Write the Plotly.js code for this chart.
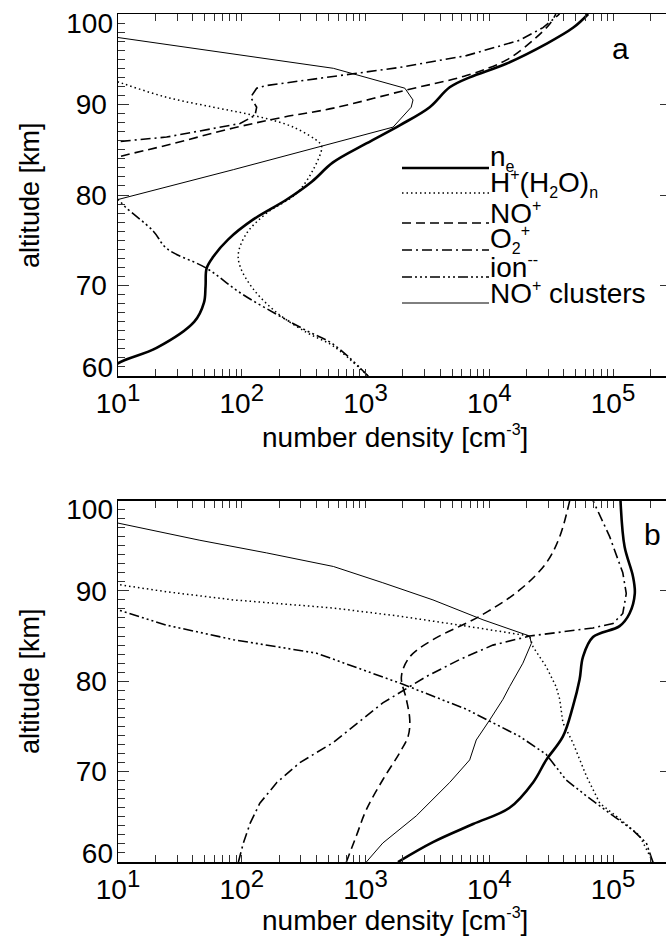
<!DOCTYPE html>
<html><head><meta charset="utf-8">
<script src="https://cdn.plot.ly/plotly-3.0.1.min.js"></script>
<style>html,body{margin:0;padding:0;background:#fff}#chart{width:666px;height:944px}</style>
</head><body><div id="chart"></div>
<script>
// ---------- Panel a data (density cm^-3, altitude km) ----------
const altA_ne = [60, 61.4, 63.1, 66.0, 68.1, 69.9, 71.9, 73.2, 75.1, 77.3, 79.5, 81.5, 83.6, 85.7, 87.7, 89.7, 91.9, 93.0, 94.5, 96.7, 98.5, 100];
const neA     = [7.5, 10, 20.5, 41.4, 49.5, 51, 52, 59, 77.8, 124, 231, 370, 546, 1016, 1890, 3300, 4790, 6950, 13700, 28900, 47800, 63000];
const altA_h  = [60, 63.3, 64.8, 67.0, 69.6, 72.1, 73.6, 75.8, 78.0, 80.2, 82.8, 85.2, 85.7, 87.5, 88.8, 89.7, 90.8, 92.5, 94];
const hA      = [1050, 550, 335, 192, 124, 97, 94, 110, 159, 278, 378, 443, 429, 261, 124, 59, 24.7, 10, 5];
const altA_no = [83.0, 84.2, 85.5, 87.4, 88.6, 89.6, 91.6, 93.2, 94.9, 97.1, 98.9, 100];
const noA     = [5, 10, 24.7, 85.5, 217, 550, 2140, 6530, 13700, 22600, 30800, 34500];
const altA_o2 = [85.7, 85.9, 86.4, 87.9, 88.8, 89.7, 90.8, 91.8, 92.1, 93.1, 94.1, 95.4, 97.1, 98.5, 100];
const o2A     = [5, 10, 24.7, 97, 128, 132, 118, 132, 159, 550, 1890, 6530, 17600, 27200, 37000];
const altA_ion= [60, 63.5, 65.0, 66.8, 69.2, 71.9, 74.1, 76.0, 78.7, 79.5, 80.2];
const ionA    = [1050, 550, 335, 192, 97, 52, 24.7, 19.3, 11.4, 10, 8];
const altA_cl = [78.5, 79.5, 82.8, 85.7, 87.5, 89.7, 90.5, 91.8, 94.0, 97.4, 98.5];
const clA     = [5, 10, 85.5, 550, 1670, 2340, 2420, 2080, 550, 10, 4.5];

// ---------- Panel b data ----------
const altB_ne = [60, 62.2, 64.2, 66.0, 68.8, 71.3, 73.9, 77.2, 80.2, 82.7, 84.9, 86.1, 87.5, 89.7, 91.6, 94.9, 100];
const neB     = [1830, 3510, 7400, 14600, 22600, 28900, 39400, 47400, 53700, 57200, 68900, 113000, 136000, 150000, 145000, 124000, 115000];
const altB_h  = [60, 62.9, 64.7, 66.5, 69.5, 73.2, 75.4, 78.0, 79.4, 81.6, 83.8, 85.0, 86.1, 87.2, 88.1, 89.0, 89.9, 90.7, 91.5];
const hB      = [210000, 164000, 115000, 78200, 61000, 47400, 39400, 37100, 34700, 28900, 22600, 21200, 6530, 1890, 550, 85.5, 24.7, 10, 5];
const altB_no = [60, 62.9, 65.8, 69.1, 72.1, 73.9, 75.7, 78.0, 80.5, 82.7, 84.6, 87.2, 90.1, 93.1, 96.0, 100];
const noB     = [700, 844, 1016, 1380, 1890, 2210, 2280, 2140, 1950, 2280, 3510, 8380, 17600, 28900, 37100, 44700];
const altB_o2 = [60, 62.1, 64.3, 66.5, 68.8, 71.0, 73.2, 77.6, 80.5, 82.4, 84.0, 85.0, 85.9, 86.4, 87.5, 89.7, 92.0, 96.0, 100];
const o2B     = [94, 103, 117, 140, 192, 295, 546, 1380, 3080, 5760, 10700, 21200, 68900, 100000, 120000, 128000, 120000, 94000, 68900];
const altB_ion= [60, 62.1, 63.5, 65.4, 67.3, 69.1, 71.9, 73.9, 75.4, 76.9, 79.8, 82.4, 83.1, 84.6, 86.2, 87.9, 88.8];
const ionB    = [210000, 186000, 145000, 94000, 61000, 41700, 28900, 17600, 10700, 6530, 1890, 550, 403, 85.5, 24.7, 10, 6];
const altB_cl = [60, 62.1, 65.1, 68.8, 71.3, 73.5, 75.7, 78.0, 79.4, 82.0, 84.2, 85.0, 86.8, 89.0, 90.9, 92.7, 94.2, 95.6, 97.5, 98.3];
const clB     = [1016, 1380, 2570, 4790, 6950, 7850, 10070, 12900, 14600, 18700, 21900, 21200, 8900, 3510, 1380, 550, 159, 45.9, 10, 5];

// ---------- tick labels / legend text ----------
const SUPX = s => '<sup><span style="font-size:24px">' + s + '</span></sup>';
const xTickVals = [10, 100, 1000, 10000, 100000];
const xTickText = ['10' + SUPX('1'), '10' + SUPX('2'), '10' + SUPX('3'), '10' + SUPX('4'), '10' + SUPX('5')];
const yTickVals = [60, 70, 80, 90, 100];
const yTickText = ['', '70', '80', '90', ''];
const yEndLabelVals = [60.95, 99.0];      // end labels sit just inside the frame, as in the reference
const yEndLabelText = ['60', '100'];
const SM = s => '<span style="font-size:16px">' + s + '</span>';
const legendNames = ['n<sub>' + SM('e') + '</sub>', 'H<sup>' + SM('+') + '</sup>(H<sub>' + SM('2') + '</sub>O)<sub>' + SM('n') + '</sub>',
  'NO<sup>' + SM('+') + '</sup>', 'O<sub>' + SM('2') + '</sub><sup>' + SM('+') + '</sup>', 'ion<sup>' + SM('--') + '</sup>',
  'NO<sup>' + SM('+') + '</sup> clusters'];
const panelLabels = ['a', 'b'];
const xTitle = 'number density [cm<sup>' + SM('-3') + '</sup>]';
const yTitle = 'altitude [km]';

// ---------- styles ----------
const styles = [
  {width: 2.6, dash: 'solid', shape: ['spline', 'spline']},
  {width: 1.5, dash: '1.5px,3px', shape: ['spline', 'linear']},
  {width: 1.6, dash: '9px,5px', shape: ['spline', 'spline']},
  {width: 1.6, dash: '10px,4px,2px,4px', shape: ['linear', 'linear']},
  {width: 1.6, dash: '10px,3px,2px,3px,2px,3px,2px,3px', shape: ['spline', 'linear']},
  {width: 1.0, dash: 'solid', shape: ['linear', 'linear']}
];

const W = 666, H = 944, ML = 118, MR = 0, MT = 14, MB = 82;
const px = X => (X - ML) / (W - ML - MR);
const py = Y => (H - MB - Y) / (H - MT - MB);
const FONT = 'Liberation Sans, Arial, sans-serif';

const seriesA = [[neA, altA_ne], [hA, altA_h], [noA, altA_no], [o2A, altA_o2], [ionA, altA_ion], [clA, altA_cl]];
const seriesB = [[neB, altB_ne], [hB, altB_h], [noB, altB_no], [o2B, altB_o2], [ionB, altB_ion], [clB, altB_cl]];

const traces = [];
[[seriesA, 'x', 'y', 0], [seriesB, 'x2', 'y2', 1]].forEach(([ser, xa, ya, p]) => {
  ser.forEach((s, i) => traces.push({x: s[0], y: s[1], xaxis: xa, yaxis: ya, mode: 'lines',
    line: {color: '#000', width: styles[i].width, dash: styles[i].dash, shape: styles[i].shape[p], smoothing: 1.0},
    showlegend: false, hoverinfo: 'skip'}));
});
// invisible anchors for the auxiliary tick axes
[['x', 'y3'], ['x2', 'y4'], ['x', 'y5'], ['x2', 'y6']].forEach(([xa, ya]) =>
  traces.push({x: [10], y: [60], xaxis: xa, yaxis: ya, mode: 'markers', marker: {opacity: 0}, showlegend: false, hoverinfo: 'skip'}));

const minorX = [];
for (let d = 1; d <= 5; d++) for (let k = 2; k <= 9; k++) minorX.push(k * Math.pow(10, d));

const domA = [py(376), 1];
const domB = [0, py(500.5)];

function xAxis(anchor) {
  return {type: 'log', range: [1, 1 + 548 / 123.75], domain: [0, 1], anchor: anchor,
    tickmode: 'array', tickvals: xTickVals, ticktext: xTickText,
    ticks: 'inside', ticklen: 7, tickwidth: 1, tickcolor: '#333',
    minor: {tickmode: 'array', tickvals: minorX, ticks: 'inside', ticklen: 4, tickwidth: 1, tickcolor: '#333', showgrid: false},
    showline: true, linecolor: '#000', linewidth: 1.5, mirror: 'allticks',
    showgrid: false, zeroline: false,
    tickfont: {family: FONT, size: 28, color: '#000'}, ticklabelstandoff: 2};
}
function yAxis(dom, anchor) {
  return {range: [60, 100], domain: dom, anchor: anchor,
    tickmode: 'array', tickvals: yTickVals, ticktext: yTickText,
    ticks: 'inside', ticklen: 11, tickwidth: 1, tickcolor: '#333',
    minor: {tickmode: 'linear', tick0: 60, dtick: 1, ticks: 'inside', ticklen: 7, tickwidth: 1, tickcolor: '#333', showgrid: false},
    showline: true, linecolor: '#000', linewidth: 1.5,
    showgrid: false, zeroline: false,
    tickfont: {family: FONT, size: 28, color: '#000'}, ticklabelstandoff: 4};
}
function yLabels(over, dom, anchor) {
  return {range: [60, 100], domain: dom, anchor: anchor, overlaying: over, side: 'left',
    tickmode: 'array', tickvals: yEndLabelVals, ticktext: yEndLabelText, ticks: '',
    showline: false, showgrid: false, zeroline: false,
    tickfont: {family: FONT, size: 28, color: '#000'}, ticklabelstandoff: 4};
}
function yRight(over, dom, anchor) {
  return {range: [60, 100], domain: dom, anchor: anchor, overlaying: over, side: 'right',
    tickmode: 'array', tickvals: [70, 80, 90], ticks: 'inside', ticklen: 6, tickwidth: 1, tickcolor: '#333',
    showticklabels: false, showline: false, showgrid: false, zeroline: false};
}

const shapes = [];
const annotations = [];
const legRows = [168, 193, 223, 250, 277, 303];
legendNames.forEach((nm, i) => {
  shapes.push({type: 'line', xref: 'paper', yref: 'paper', x0: px(402), x1: px(489), y0: py(legRows[i]), y1: py(legRows[i]),
    line: {color: '#000', width: styles[i].width, dash: styles[i].dash}});
  annotations.push({xref: 'paper', yref: 'paper', x: px(488), y: py(legRows[i] - 10), xanchor: 'left', yanchor: 'middle',
    text: nm, showarrow: false, font: {family: FONT, size: 28, color: '#000'}});
});
annotations.push({xref: 'paper', yref: 'paper', x: px(620.5), y: py(49), xanchor: 'center', yanchor: 'middle',
  text: panelLabels[0], showarrow: false, font: {family: FONT, size: 30, color: '#000'}});
annotations.push({xref: 'paper', yref: 'paper', x: px(652.5), y: py(534), xanchor: 'center', yanchor: 'middle',
  text: panelLabels[1], showarrow: false, font: {family: FONT, size: 30, color: '#000'}});
[[195, 437], [681, 920]].forEach(p => {
  annotations.push({xref: 'paper', yref: 'paper', x: px(30), y: py(p[0]), xanchor: 'center', yanchor: 'middle', textangle: -90,
    text: yTitle, showarrow: false, font: {family: FONT, size: 27, color: '#000'}});
  annotations.push({xref: 'paper', yref: 'paper', x: px(395), y: py(p[1]), xanchor: 'center', yanchor: 'middle',
    text: xTitle, showarrow: false, font: {family: FONT, size: 28, color: '#000'}});
});

const layout = {
  width: W, height: H, margin: {l: ML, r: MR, t: MT, b: MB, pad: 0},
  paper_bgcolor: '#fff', plot_bgcolor: '#fff', showlegend: false,
  font: {family: FONT, color: '#000'},
  xaxis: xAxis('y'), yaxis: yAxis(domA, 'x'), yaxis3: yRight('y', domA, 'x'), yaxis5: yLabels('y', domA, 'x'),
  xaxis2: xAxis('y2'), yaxis2: yAxis(domB, 'x2'), yaxis4: yRight('y2', domB, 'x2'), yaxis6: yLabels('y2', domB, 'x2'),
  shapes: shapes, annotations: annotations
};

Plotly.newPlot('chart', traces, layout, {staticPlot: true, displayModeBar: false});
</script></body></html>
